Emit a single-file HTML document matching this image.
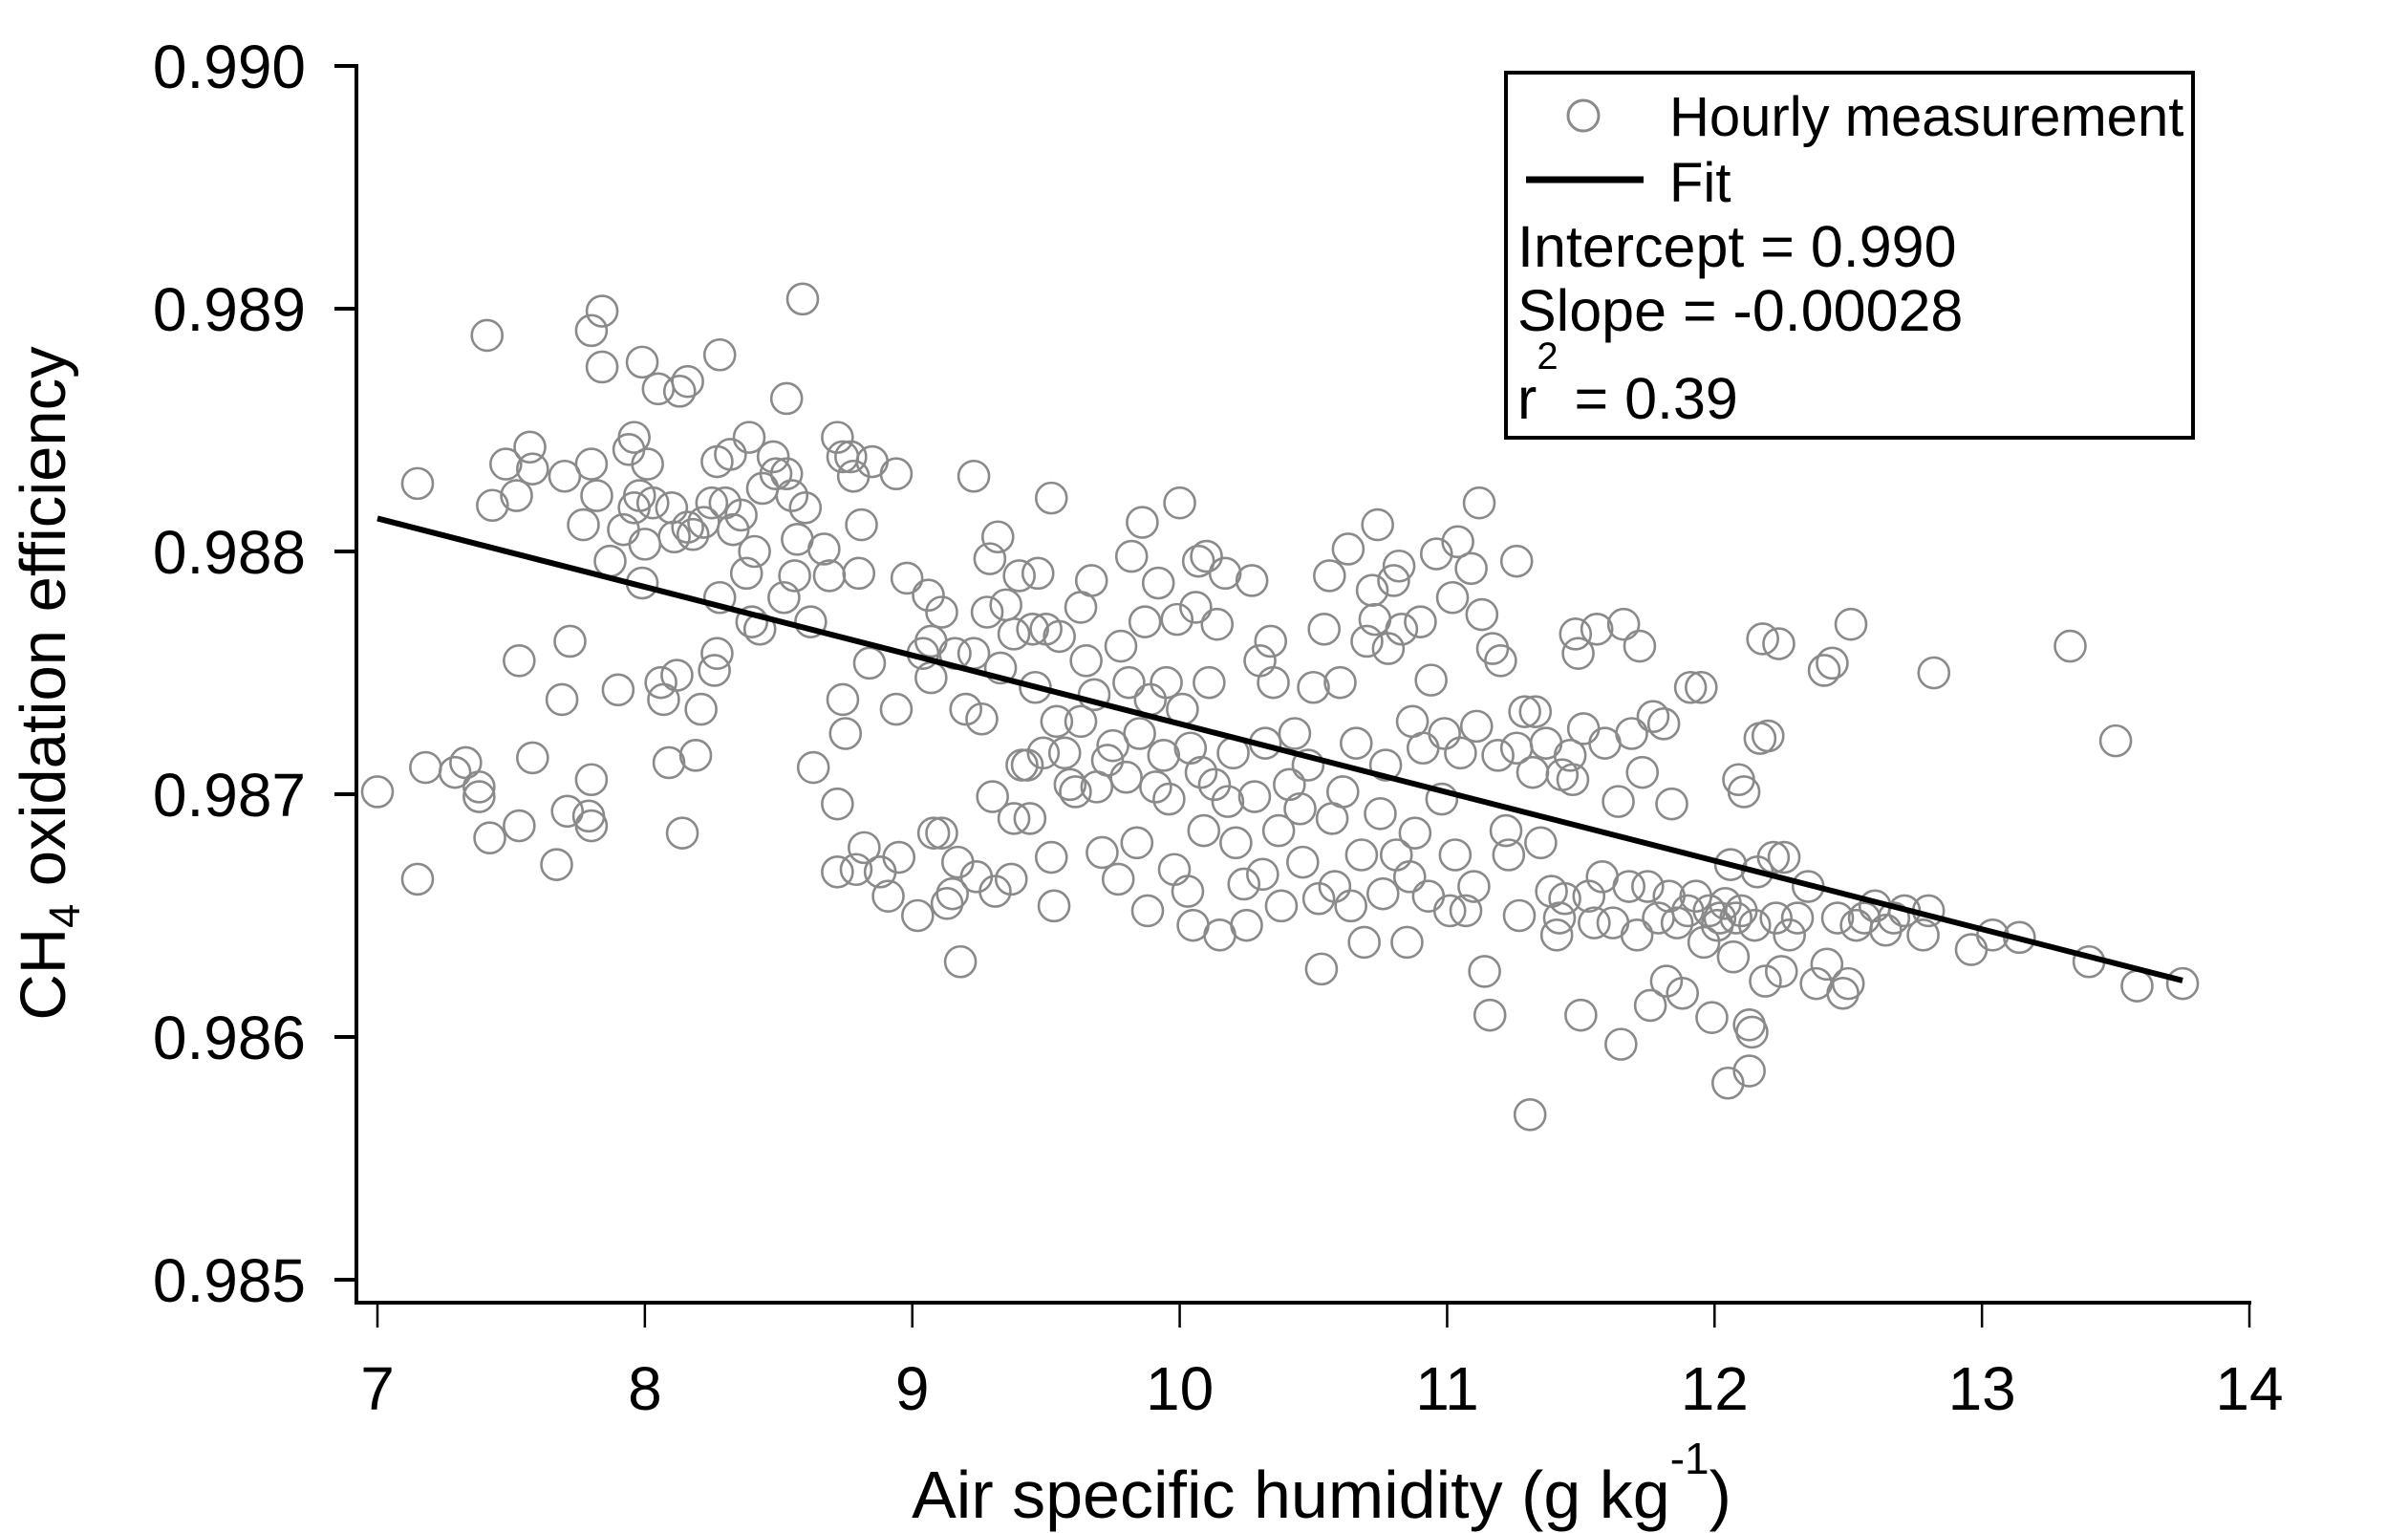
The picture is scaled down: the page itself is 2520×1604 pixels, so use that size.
<!DOCTYPE html>
<html><head><meta charset="utf-8"><style>
html,body{margin:0;padding:0;background:#fff;}
svg{display:block;font-family:"Liberation Sans",Arial,sans-serif;}
</style></head><body>
<svg id="chart" width="2520" height="1604" viewBox="0 0 2520 1604" xmlns="http://www.w3.org/2000/svg">
<g id="points"></g>
<g id="axes"></g>
<line id="fitline" stroke="#000" stroke-width="6"/>
<g>
<rect x="1576" y="76" width="719" height="382" fill="#fff" stroke="#000" stroke-width="4"/>
<circle cx="1657" cy="121" r="16" fill="none" stroke="#8a8a8a" stroke-width="3"/>
<text x="1747" y="142" font-size="58">Hourly measurement</text>
<line x1="1597" y1="188" x2="1720" y2="188" stroke="#000" stroke-width="7"/>
<text x="1747" y="211" font-size="58">Fit</text>
<text x="1588" y="279" font-size="61">Intercept = 0.990</text>
<text x="1588" y="346" font-size="61">Slope = -0.00028</text>
<text x="1588" y="438" font-size="61">r<tspan dy="-52" font-size="40">2</tspan><tspan dy="52"> = 0.39</tspan></text>
</g>
<text x="1383" y="1588" font-size="70" text-anchor="middle">Air specific humidity  (g kg<tspan dy="-46" font-size="46">-1</tspan><tspan dy="46">)</tspan></text>
<text transform="translate(68,715) rotate(-90)" font-size="67" text-anchor="middle">CH<tspan dy="15" font-size="45">4</tspan><tspan dy="-15">  oxidation efficiency</tspan></text>
</svg>
<script>
const xTicks=[7,8,9,10,11,12,13,14];
const yTicks=[0.985,0.986,0.987,0.988,0.989,0.990];
const yTickLabels=["0.985","0.986","0.987","0.988","0.989","0.990"];
const fitIntercept=0.99011;
const fitSlope=-0.000282;
const fitRange=[7.0,13.75];
const humidity=[7.00,7.15,7.15,7.18,7.29,7.33,7.38,7.38,7.41,7.42,7.43,7.48,7.52,7.53,7.53,7.57,7.58,7.58,7.67,7.69,7.70,7.71,7.72,7.77,7.79,7.80,7.80,7.80,7.80,7.82,7.84,7.84,7.87,7.90,7.92,7.94,7.96,7.96,7.98,7.99,7.99,8.00,
8.01,8.03,8.05,8.06,8.07,8.09,8.10,8.11,8.12,8.13,8.14,8.16,8.16,8.18,8.19,8.21,8.22,8.25,8.26,8.27,8.27,8.28,8.28,8.30,8.32,8.33,8.36,8.38,8.39,8.40,8.41,8.43,8.44,8.48,8.49,8.52,8.53,8.53,8.55,8.56,8.57,8.59,8.60,8.62,8.63,8.67,8.69,8.72,8.72,8.72,8.74,8.74,8.75,8.77,8.78,8.79,8.80,8.81,8.82,8.84,8.85,8.88,8.91,8.94,8.94,8.95,8.98,
9.02,9.04,9.06,9.07,9.07,9.08,9.11,9.11,9.13,9.15,9.16,9.17,9.18,9.20,9.23,9.23,9.24,9.26,9.28,9.29,9.30,9.31,9.32,9.33,9.35,9.37,9.38,9.38,9.40,9.41,9.43,9.44,9.45,9.46,9.47,9.49,9.50,9.52,9.52,9.53,9.54,9.55,9.57,9.59,9.61,9.63,9.63,9.65,9.67,9.68,9.69,9.71,9.73,9.75,9.77,9.78,9.80,9.81,9.82,9.84,9.85,9.86,9.87,9.88,9.89,9.91,9.92,9.94,9.95,9.96,9.98,9.99,10.00,
10.01,10.03,10.04,10.05,10.06,10.07,10.08,10.09,10.10,10.11,10.13,10.14,10.15,10.17,10.18,10.20,10.21,10.24,10.25,10.27,10.28,10.30,10.31,10.32,10.34,10.35,10.37,10.38,10.41,10.43,10.45,10.46,10.48,10.50,10.52,10.53,10.54,10.56,10.57,10.58,10.60,10.61,10.63,10.64,10.66,10.68,10.69,10.70,10.72,10.73,10.74,10.75,10.76,10.77,10.78,10.80,10.81,10.82,10.83,10.85,10.86,10.87,10.88,10.90,10.91,10.93,10.94,10.96,10.98,10.99,
11.01,11.02,11.03,11.04,11.05,11.07,11.09,11.10,11.11,11.12,11.13,11.14,11.16,11.17,11.19,11.20,11.22,11.23,11.26,11.26,11.27,11.29,11.31,11.32,11.33,11.35,11.37,11.39,11.41,11.42,11.43,11.44,11.46,11.47,11.48,11.49,11.50,11.51,11.53,11.55,11.56,11.58,11.59,11.62,11.64,11.65,11.66,11.68,11.69,11.71,11.72,11.73,11.75,11.76,11.77,11.79,11.81,11.82,11.83,11.84,11.86,11.88,11.90,11.91,11.93,11.95,11.96,11.98,11.99,
12.01,12.02,12.04,12.05,12.06,12.07,12.08,12.09,12.10,12.11,12.13,12.13,12.14,12.15,12.16,12.17,12.18,12.19,12.20,12.22,12.23,12.24,12.25,12.26,12.28,12.31,12.35,12.38,12.41,12.42,12.44,12.46,12.48,12.50,12.51,12.53,12.56,12.60,12.64,12.67,12.71,12.78,12.80,12.82,
12.96,13.04,13.14,13.33,13.40,13.50,13.58,13.75];
const efficiency=[0.98701,0.98828,0.98665,0.98711,0.98709,0.98713,0.98703,0.98699,0.98889,0.98682,0.98819,0.98836,0.98823,0.98755,0.98687,0.98843,0.98834,0.98715,0.98671,0.98739,0.98831,0.98693,0.98763,0.98811,0.98691,0.98891,0.98706,0.98687,0.98836,0.98823,0.98899,0.98876,0.98796,0.98743,0.98809,0.98842,0.98847,0.98818,0.98823,0.98878,0.98787,0.98803,
0.98836,0.98820,0.98867,0.98746,0.98739,0.98713,0.98818,0.98806,0.98749,0.98866,0.98684,0.98870,0.98810,0.98807,0.98716,0.98735,0.98812,0.98820,0.98751,0.98758,0.98837,0.98881,0.98781,0.98820,0.98840,0.98809,0.98815,0.98791,0.98847,0.98771,0.98800,0.98768,0.98826,0.98839,0.98832,0.98781,0.98863,0.98832,0.98823,0.98790,0.98805,0.98904,0.98818,0.98771,0.98711,0.98801,0.98790,0.98847,0.98696,0.98668,0.98739,0.98839,0.98725,0.98839,0.98831,0.98669,0.98791,0.98811,0.98678,0.98754,0.98837,0.98668,0.98658,0.98832,0.98735,0.98674,0.98789,
0.98650,0.98758,0.98782,0.98763,0.98748,0.98684,0.98775,0.98684,0.98655,0.98659,0.98758,0.98672,0.98631,0.98735,0.98758,0.98831,0.98666,0.98731,0.98775,0.98797,0.98699,0.98660,0.98806,0.98752,0.98778,0.98665,0.98766,0.98690,0.98790,0.98712,0.98712,0.98690,0.98768,0.98744,0.98791,0.98717,0.98768,0.98822,0.98674,0.98654,0.98730,0.98765,0.98717,0.98704,0.98701,0.98730,0.98777,0.98755,0.98788,0.98741,0.98703,0.98676,0.98714,0.98720,0.98665,0.98761,0.98707,0.98746,0.98798,0.98680,0.98725,0.98812,0.98771,0.98652,0.98739,0.98703,0.98787,0.98716,0.98746,0.98698,0.98669,0.98772,0.98820,
0.98735,0.98660,0.98719,0.98646,0.98777,0.98796,0.98709,0.98685,0.98798,0.98746,0.98704,0.98770,0.98642,0.98791,0.98697,0.98717,0.98680,0.98663,0.98646,0.98788,0.98699,0.98755,0.98667,0.98721,0.98763,0.98746,0.98685,0.98654,0.98704,0.98725,0.98694,0.98672,0.98712,0.98744,0.98657,0.98628,0.98768,0.98790,0.98690,0.98662,0.98746,0.98701,0.98801,0.98654,0.98721,0.98675,0.98639,0.98763,0.98784,0.98772,0.98811,0.98692,0.98659,0.98712,0.98760,0.98788,0.98675,0.98794,0.98768,0.98639,0.98666,0.98730,0.98684,0.98771,0.98719,0.98658,0.98747,0.98799,0.98698,0.98725,
0.98652,0.98781,0.98675,0.98804,0.98717,0.98652,0.98793,0.98662,0.98728,0.98820,0.98774,0.98627,0.98609,0.98760,0.98716,0.98755,0.98685,0.98675,0.98796,0.98719,0.98650,0.98734,0.98568,0.98709,0.98734,0.98680,0.98721,0.98660,0.98642,0.98649,0.98708,0.98657,0.98716,0.98706,0.98766,0.98758,0.98609,0.98727,0.98658,0.98647,0.98768,0.98666,0.98721,0.98647,0.98697,0.98597,0.98770,0.98662,0.98725,0.98642,0.98761,0.98709,0.98662,0.98613,0.98732,0.98649,0.98729,0.98623,0.98658,0.98696,0.98647,0.98618,0.98652,0.98744,0.98658,0.98744,0.98639,0.98652,0.98608,
0.98646,0.98649,0.98655,0.98581,0.98671,0.98633,0.98649,0.98706,0.98652,0.98701,0.98605,0.98586,0.98602,0.98646,0.98668,0.98723,0.98764,0.98623,0.98724,0.98674,0.98649,0.98762,0.98627,0.98674,0.98642,0.98649,0.98662,0.98622,0.98751,0.98630,0.98754,0.98649,0.98618,0.98622,0.98770,0.98646,0.98649,0.98654,0.98644,0.98649,0.98652,0.98642,0.98652,0.98750,
0.98636,0.98642,0.98641,0.98761,0.98631,0.98722,0.98621,0.98622];

const NS="http://www.w3.org/2000/svg";
function sx(v){return 395+(v-7)*279.86;}
function sy(v){return 69+(0.990-v)*254000;}
function mk(tag,attrs,parent){const e=document.createElementNS(NS,tag);for(const k in attrs)e.setAttribute(k,attrs[k]);parent.appendChild(e);return e;}

const pts=document.getElementById('points');
for(let i=0;i<humidity.length;i++){
  const c=mk('circle',{cx:sx(humidity[i]),cy:sy(efficiency[i]),r:16,fill:'none',stroke:'#8a8a8a','stroke-width':2.6},pts);
  
  
}
const ax=document.getElementById('axes');
const yl=mk('line',{x1:373,y1:sy(0.990)-2,x2:373,y2:1365,stroke:'#000','stroke-width':4},ax);


const xl=mk('line',{x1:371,y1:1363,x2:sx(14)+2,y2:1363,stroke:'#000','stroke-width':4},ax);


yTicks.forEach((v,i)=>{
  const t=mk('line',{x1:350,y1:sy(v),x2:373,y2:sy(v),stroke:'#000','stroke-width':4},ax);
  
  
  const l=mk('text',{x:320,y:sy(v)+23,'font-size':64,'text-anchor':'end'},ax);
  l.textContent=yTickLabels[i];
  
  
});
xTicks.forEach(v=>{
  const t=mk('line',{x1:sx(v),y1:1363,x2:sx(v),y2:1389,stroke:'#000','stroke-width':2.5},ax);
  
  
  const l=mk('text',{x:sx(v),y:1475,'font-size':64,'text-anchor':'middle'},ax);
  l.textContent=String(v);
  
  
});
const fl=document.getElementById('fitline');
fl.setAttribute('x1',sx(fitRange[0]));fl.setAttribute('y1',sy(fitIntercept+fitSlope*fitRange[0]));
fl.setAttribute('x2',sx(fitRange[1]));fl.setAttribute('y2',sy(fitIntercept+fitSlope*fitRange[1]));
</script>
</body></html>
